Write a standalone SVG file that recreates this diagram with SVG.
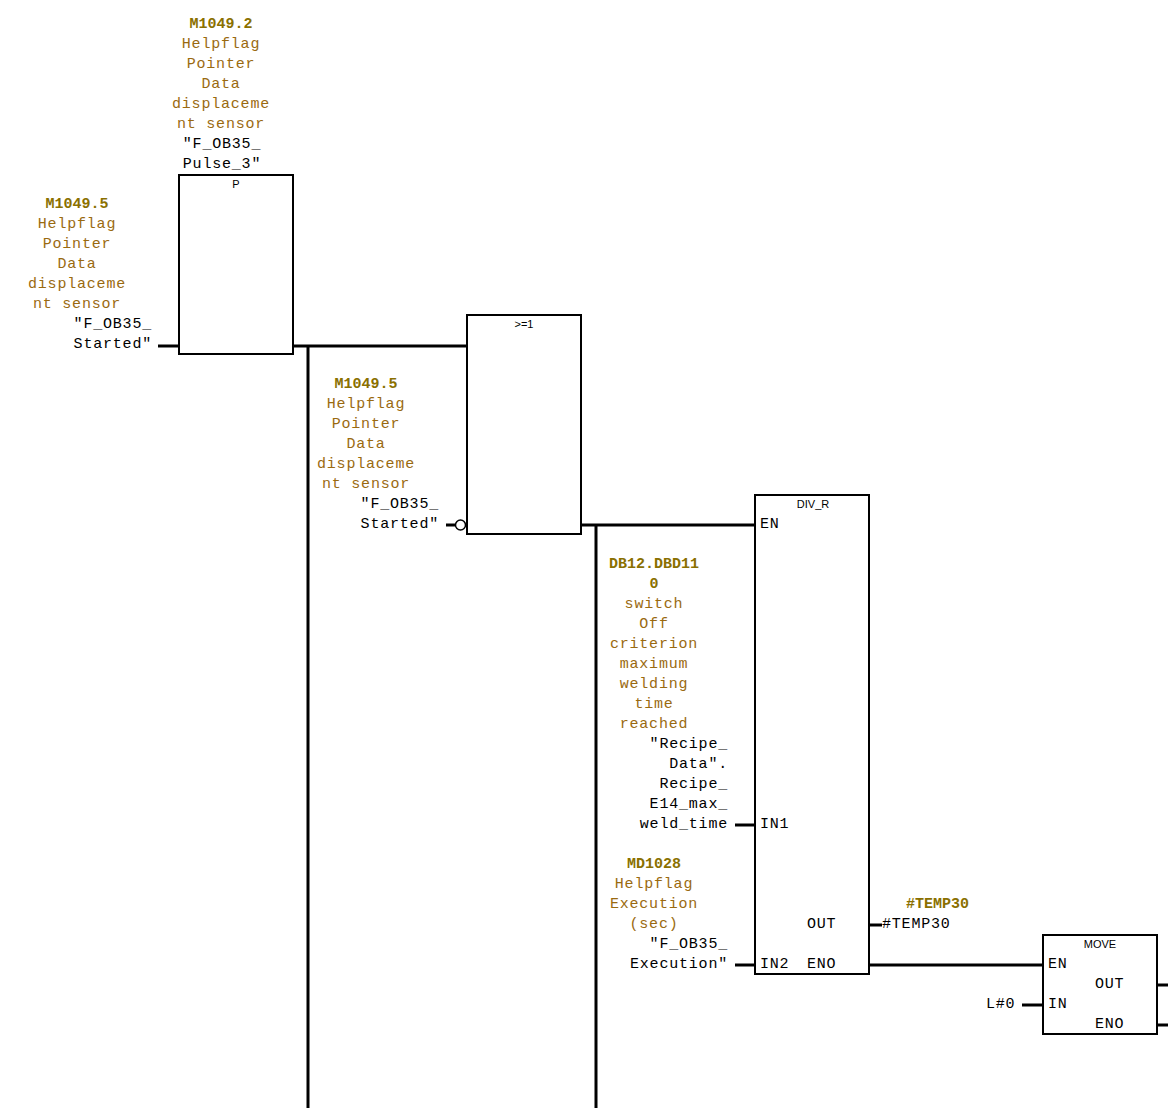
<svg xmlns="http://www.w3.org/2000/svg" width="1168" height="1108" viewBox="0 0 1168 1108">
<style>
.bg{fill:#ffffff}
.box{fill:#ffffff;stroke:#000;stroke-width:2}
.wire{fill:none;stroke:#000;stroke-width:3}
.c{font-family:"Liberation Mono","DejaVu Sans Mono",monospace;font-size:15px;letter-spacing:0.8px;fill:#9a6a10}
.a{font-family:"Liberation Mono","DejaVu Sans Mono",monospace;font-size:15px;font-weight:bold;fill:#8a7000}
.k{font-family:"Liberation Mono","DejaVu Sans Mono",monospace;font-size:15px;letter-spacing:0.8px;fill:#000}
.t{font-family:"Liberation Sans",Arial,sans-serif;font-size:11px;fill:#000}
.m{text-anchor:middle}
.e{text-anchor:end}
</style>
<rect class="bg" x="0" y="0" width="1168" height="1108"/>

<g id="connectors">
  <line class="wire" x1="158" y1="346" x2="179" y2="346"/>
  <line class="wire" x1="293" y1="346" x2="467" y2="346"/>
  <line class="wire" x1="308" y1="346" x2="308" y2="1108"/>
  <line class="wire" x1="446" y1="525" x2="455" y2="525"/>
  <circle cx="460.5" cy="525" r="5" fill="#fff" stroke="#000" stroke-width="1.5"/>
  <line class="wire" x1="581" y1="525" x2="755" y2="525"/>
  <line class="wire" x1="596" y1="525" x2="596" y2="1108"/>
  <line class="wire" x1="735" y1="825" x2="755" y2="825"/>
  <line class="wire" x1="735" y1="965" x2="755" y2="965"/>
  <line class="wire" x1="869" y1="925" x2="882" y2="925"/>
  <line class="wire" x1="869" y1="965" x2="1043" y2="965"/>
  <line class="wire" x1="1022" y1="1005" x2="1043" y2="1005"/>
  <line class="wire" x1="1157" y1="985" x2="1168" y2="985"/>
  <line class="wire" x1="1157" y1="1025" x2="1168" y2="1025"/>
</g>

<g id="label-pulse3">
  <text class="a m" x="221" y="28">M1049.2</text>
  <text class="c m" x="221" y="48">Helpflag</text>
  <text class="c m" x="221" y="68">Pointer</text>
  <text class="c m" x="221" y="88">Data</text>
  <text class="c m" x="221" y="108">displaceme</text>
  <text class="c m" x="221" y="128">nt sensor</text>
  <text class="k m" x="222" y="148">"F_OB35_</text>
  <text class="k m" x="222" y="168">Pulse_3"</text>
</g>

<g id="node-p">
  <rect class="box" x="179" y="175" width="114" height="179"/>
  <text class="t m" x="236" y="188">P</text>
</g>

<g id="label-started1">
  <text class="a m" x="77" y="208">M1049.5</text>
  <text class="c m" x="77" y="228">Helpflag</text>
  <text class="c m" x="77" y="248">Pointer</text>
  <text class="c m" x="77" y="268">Data</text>
  <text class="c m" x="77" y="288">displaceme</text>
  <text class="c m" x="77" y="308">nt sensor</text>
  <text class="k e" x="152" y="328">"F_OB35_</text>
  <text class="k e" x="152" y="348">Started"</text>
</g>

<g id="node-or">
  <rect class="box" x="467" y="315" width="114" height="219"/>
  <text class="t m" x="524" y="328">&gt;=1</text>
</g>

<g id="label-started2">
  <text class="a m" x="366" y="388">M1049.5</text>
  <text class="c m" x="366" y="408">Helpflag</text>
  <text class="c m" x="366" y="428">Pointer</text>
  <text class="c m" x="366" y="448">Data</text>
  <text class="c m" x="366" y="468">displaceme</text>
  <text class="c m" x="366" y="488">nt sensor</text>
  <text class="k e" x="439" y="508">"F_OB35_</text>
  <text class="k e" x="439" y="528">Started"</text>
</g>

<g id="node-divr">
  <rect class="box" x="755" y="495" width="114" height="479"/>
  <text class="t m" x="813" y="508">DIV_R</text>
  <text class="k" x="760" y="528">EN</text>
  <text class="k" x="760" y="828">IN1</text>
  <text class="k" x="760" y="968">IN2</text>
  <text class="k" x="807" y="928">OUT</text>
  <text class="k" x="807" y="968">ENO</text>
</g>

<g id="label-in1">
  <text class="a m" x="654" y="568">DB12.DBD11</text>
  <text class="a m" x="654" y="588">0</text>
  <text class="c m" x="654" y="608">switch</text>
  <text class="c m" x="654" y="628">Off</text>
  <text class="c m" x="654" y="648">criterion</text>
  <text class="c m" x="654" y="668">maximum</text>
  <text class="c m" x="654" y="688">welding</text>
  <text class="c m" x="654" y="708">time</text>
  <text class="c m" x="654" y="728">reached</text>
  <text class="k e" x="728" y="748">"Recipe_</text>
  <text class="k e" x="728" y="768">Data".</text>
  <text class="k e" x="728" y="788">Recipe_</text>
  <text class="k e" x="728" y="808">E14_max_</text>
  <text class="k e" x="728" y="828">weld_time</text>
</g>

<g id="label-in2">
  <text class="a m" x="654" y="868">MD1028</text>
  <text class="c m" x="654" y="888">Helpflag</text>
  <text class="c m" x="654" y="908">Execution</text>
  <text class="c m" x="654" y="928">(sec)</text>
  <text class="k e" x="728" y="948">"F_OB35_</text>
  <text class="k e" x="728" y="968">Execution"</text>
</g>

<g id="label-out">
  <text class="a" x="906" y="908">#TEMP30</text>
  <text class="k" x="882" y="928">#TEMP30</text>
</g>

<g id="node-move">
  <rect class="box" x="1043" y="935" width="114" height="99"/>
  <text class="t m" x="1100" y="948">MOVE</text>
  <text class="k" x="1048" y="968">EN</text>
  <text class="k" x="1048" y="1008">IN</text>
  <text class="k" x="1095" y="988">OUT</text>
  <text class="k" x="1095" y="1028">ENO</text>
  <text class="k" x="986" y="1008">L#0</text>
</g>
</svg>
